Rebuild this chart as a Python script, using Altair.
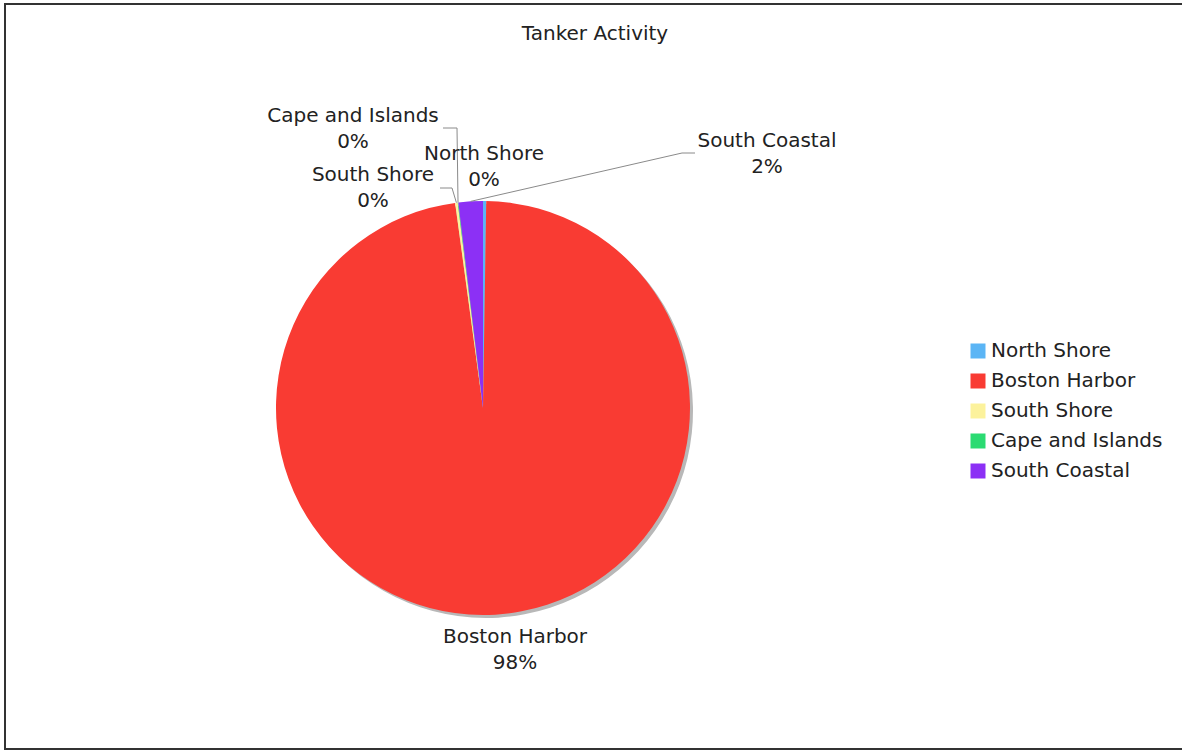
import math
import altair as alt
import pandas as pd

# ---------------- data ----------------
regions = ["North Shore", "Boston Harbor", "South Shore", "Cape and Islands", "South Coastal"]
shares = [0.25, 97.6, 0.2, 0.05, 1.9]
colors = ["#5BB5F5", "#F93B33", "#FCF29C", "#2BDB72", "#8C30F5"]
title_text = "Tanker Activity"

# ---------------- layout ----------------
W, H = 1182, 752
CX, CY, R = 483, 408, 207
FONT = "DejaVu Sans"
TEXT = "#222222"

# centre of the first line of each two-line slice label
label_x = [484, 515, 373, 353, 767]
label_y = [154, 637, 175, 116, 141]
# leader lines: elbow and end point (None = no leader)
leader_elbow = [None, None, (452, 188), (457, 128), (682, 153)]
leader_end = [None, None, (440, 188), (443, 128), (695, 153)]

total = sum(shares)
pie = pd.DataFrame({"region": regions, "share": shares, "idx": list(range(len(regions)))})

lab = pd.DataFrame({
    "region": regions,
    "label": [f"{r}\n{round(s / total * 100)}%" for r, s in zip(regions, shares)],
    "lx": label_x,
    "ly": label_y,
})

# leader lines start on the rim at the slice's mid angle
rows = []
cum = 0.0
for r, s, el, en in zip(regions, shares, leader_elbow, leader_end):
    mid = (cum + s / 2) / total * 2 * math.pi
    cum += s
    if el is None:
        continue
    rim = (CX + R * math.sin(mid), CY - R * math.cos(mid))
    for k, (px, py) in enumerate([rim, el, en]):
        rows.append({"region": r, "step": k, "px": px, "py": py})
lead = pd.DataFrame(rows)

# ---------------- chart ----------------
base = alt.Chart(pie)

shadow = base.mark_arc(radius=R, color="#b8b8b8").encode(
    theta=alt.Theta("share:Q", stack=True),
    order=alt.Order("idx:Q", sort="ascending"),
    x=alt.value(CX + 3),
    y=alt.value(CY + 3),
)

slices = base.mark_arc(radius=R).encode(
    theta=alt.Theta("share:Q", stack=True),
    color=alt.Color(
        "region:N",
        sort=regions,
        scale=alt.Scale(domain=regions, range=colors),
        legend=alt.Legend(
            title=None,
            orient="none",
            legendX=968,
            legendY=341,
            symbolType="square",
            symbolSize=225,
            symbolStrokeWidth=0,
            labelFont=FONT,
            labelFontSize=20,
            labelColor=TEXT,
            labelOffset=3,
            labelLimit=400,
            rowPadding=10,
            padding=0,
        ),
    ),
    order=alt.Order("idx:Q", sort="ascending"),
    x=alt.value(CX),
    y=alt.value(CY),
)

leaders = alt.Chart(lead).mark_line(color="#8a8a8a", strokeWidth=1).encode(
    x=alt.X("px:Q", scale=None, axis=None),
    y=alt.Y("py:Q", scale=None, axis=None),
    detail="region:N",
    order="step:Q",
)

labels = alt.Chart(lab).mark_text(
    font=FONT, fontSize=20, lineBreak="\n", lineHeight=26,
    align="center", baseline="middle", color=TEXT,
).encode(
    x=alt.X("lx:Q", scale=None, axis=None),
    y=alt.Y("ly:Q", scale=None, axis=None),
    text="label:N",
)

title = alt.Chart(pd.DataFrame({"t": [title_text]})).mark_text(
    font=FONT, fontSize=20, align="center", baseline="middle", color=TEXT,
).encode(x=alt.value(595), y=alt.value(34), text="t:N")

one = pd.DataFrame({"k": [0]})
frame_left = alt.Chart(one).mark_rule(color="#333333", strokeWidth=2).encode(
    x=alt.value(5), y=alt.value(3), y2=alt.value(750))
frame_top = alt.Chart(one).mark_rule(color="#333333", strokeWidth=2).encode(
    x=alt.value(4), x2=alt.value(W), y=alt.value(4))
frame_bottom = alt.Chart(one).mark_rule(color="#333333", strokeWidth=2).encode(
    x=alt.value(4), x2=alt.value(W), y=alt.value(749))

chart = alt.layer(
    shadow, slices, leaders, labels, title, frame_left, frame_top, frame_bottom
).resolve_scale(x="independent", y="independent").properties(
    width=W, height=H, padding=0,
    autosize=alt.AutoSizeParams(type="none"),
    background="white",
).configure_view(stroke="transparent", strokeWidth=0)

chart.save("out.html", embed_options={"renderer": "svg", "actions": False})
